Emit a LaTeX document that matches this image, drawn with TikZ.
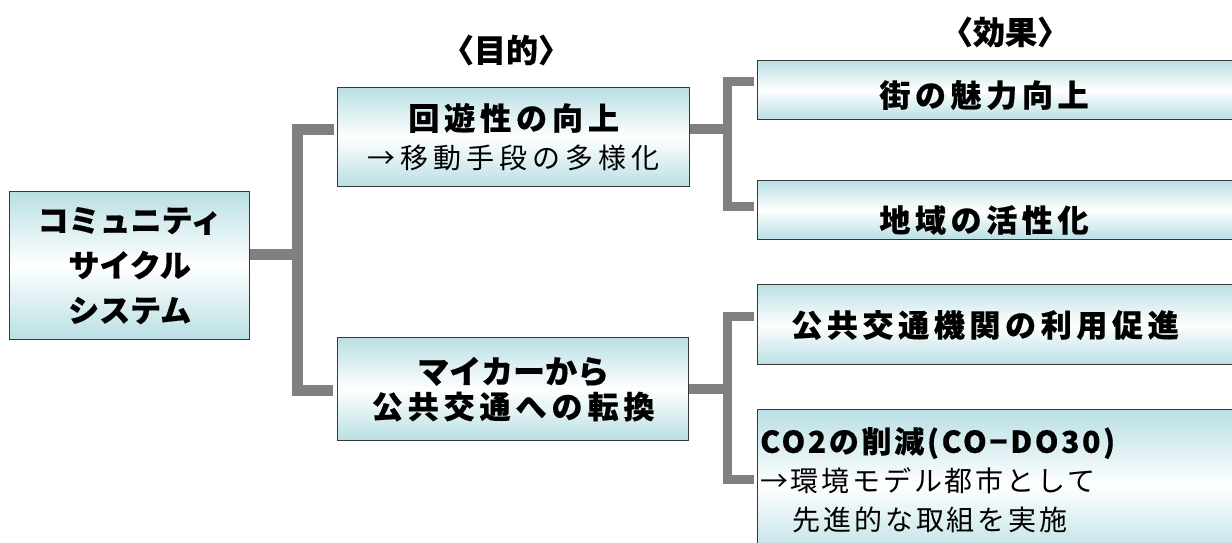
\documentclass[tikz,border=0pt]{standalone}
\usepackage{fontspec}
\setmainfont{Noto Sans CJK JP}[BoldFeatures={FakeBold=0.5}]
\usetikzlibrary{calc}
\definecolor{boxc}{RGB}{185,223,228}
\definecolor{linec}{RGB}{128,128,128}
\definecolor{edgec}{RGB}{55,55,55}
\begin{document}
\begin{tikzpicture}[x=1pt,y=-1pt,
  box/.style={draw=edgec, line width=1.3pt, top color=boxc, bottom color=boxc, middle color=white,
    inner sep=0pt, anchor=north west, align=center},
  conn/.style={draw=linec, line width=11pt},
  connr/.style={draw=linec, line width=9pt},
  bigtxt/.style={inner sep=0pt, font={\fontsize{31}{36}\selectfont\bfseries\addfontfeature{LetterSpace=15}}},
  regtxt/.style={inner sep=0pt, anchor=west, font={\fontsize{28}{34}\selectfont\addfontfeature{LetterSpace=10}}},
  headtxt/.style={inner sep=0pt, font={\fontsize{32}{36}\selectfont\bfseries}}]
\useasboundingbox (0,0) rectangle (1232,542);
\fill[white] (0,0) rectangle (1232,542);

% headings
\node[headtxt] (h1) at (506,50) {〈目的〉};
\node[headtxt] (h2) at (1005,32) {〈効果〉};

% left box
\node[box, minimum width=240pt, minimum height=148pt,
  font={\fontsize{31}{45}\selectfont\bfseries}] (sys) at (9,191)
  {コミュニティ\\サイクル\\システム};

% middle boxes
\node[box, minimum width=352pt, minimum height=99pt,
  font={\fontsize{31}{39}\selectfont}] (b2) at (337,87)
  {{\bfseries\addfontfeature{LetterSpace=16}回遊性の向上}\\{\fontsize{28}{39}\selectfont\addfontfeature{LetterSpace=18}→移動手段の多様化}};
\node[box, minimum width=351pt, minimum height=103pt,
  font={\fontsize{31}{35}\selectfont\bfseries}] (b3) at (337,337)
  {{\fontsize{32}{35}\selectfont マイカーから}\\{\addfontfeature{LetterSpace=16}公共交通への転換}};

% right boxes
\node[box, minimum width=490pt, minimum height=59pt] (r1) at (757,60) {};
\node[box, minimum width=490pt, minimum height=59pt] (r2) at (757,180) {};
\node[box, minimum width=490pt, minimum height=80pt] (r3) at (757,284) {};
\node[box, minimum width=490pt, minimum height=150pt] (r4) at (757,409) {};

\node[bigtxt] (t1) at (984,95) {街の魅力向上};
\node[bigtxt] (t2) at (984,220) {地域の活性化};
\node[bigtxt] (t3) at (985,325) {公共交通機関の利用促進};
\node[regtxt, font={\fontsize{30}{36}\selectfont\bfseries\addfontfeature{LetterSpace=9}}] (t4a) at (760,443) {CO2の削減(CO−DO30)};
\node[regtxt] (t4b) at (760,481) {→環境モデル都市として};
\node[regtxt] (t4c) at (762,520) {　先進的な取組を実施};

% main bracket
\coordinate (j0) at (297.5,254.5);
\draw[conn] (sys.east |- j0) -- (j0);
\draw[conn] ($(b2.west)+(-3,-8)$) -| (j0) |- ($(b3.west)+(-4,1)$);

% right brackets
\coordinate (j1) at (727.5,129);
\draw[line width=10pt, draw=linec] (b2.east |- j1) -- (j1);
\draw[connr] ($(r1.west)+(-3,-8.5)$) -| (j1) |- ($(r2.west)+(-3,-3.5)$);

\coordinate (j2) at (727.5,388.5);
\draw[line width=10pt, draw=linec] (b3.east |- j2) -- (j2);
\draw[connr] ($(r3.west)+(-3,-8)$) -| (j2) |- ($(r4.west)+(-3,-5)$);
\end{tikzpicture}
\end{document}
